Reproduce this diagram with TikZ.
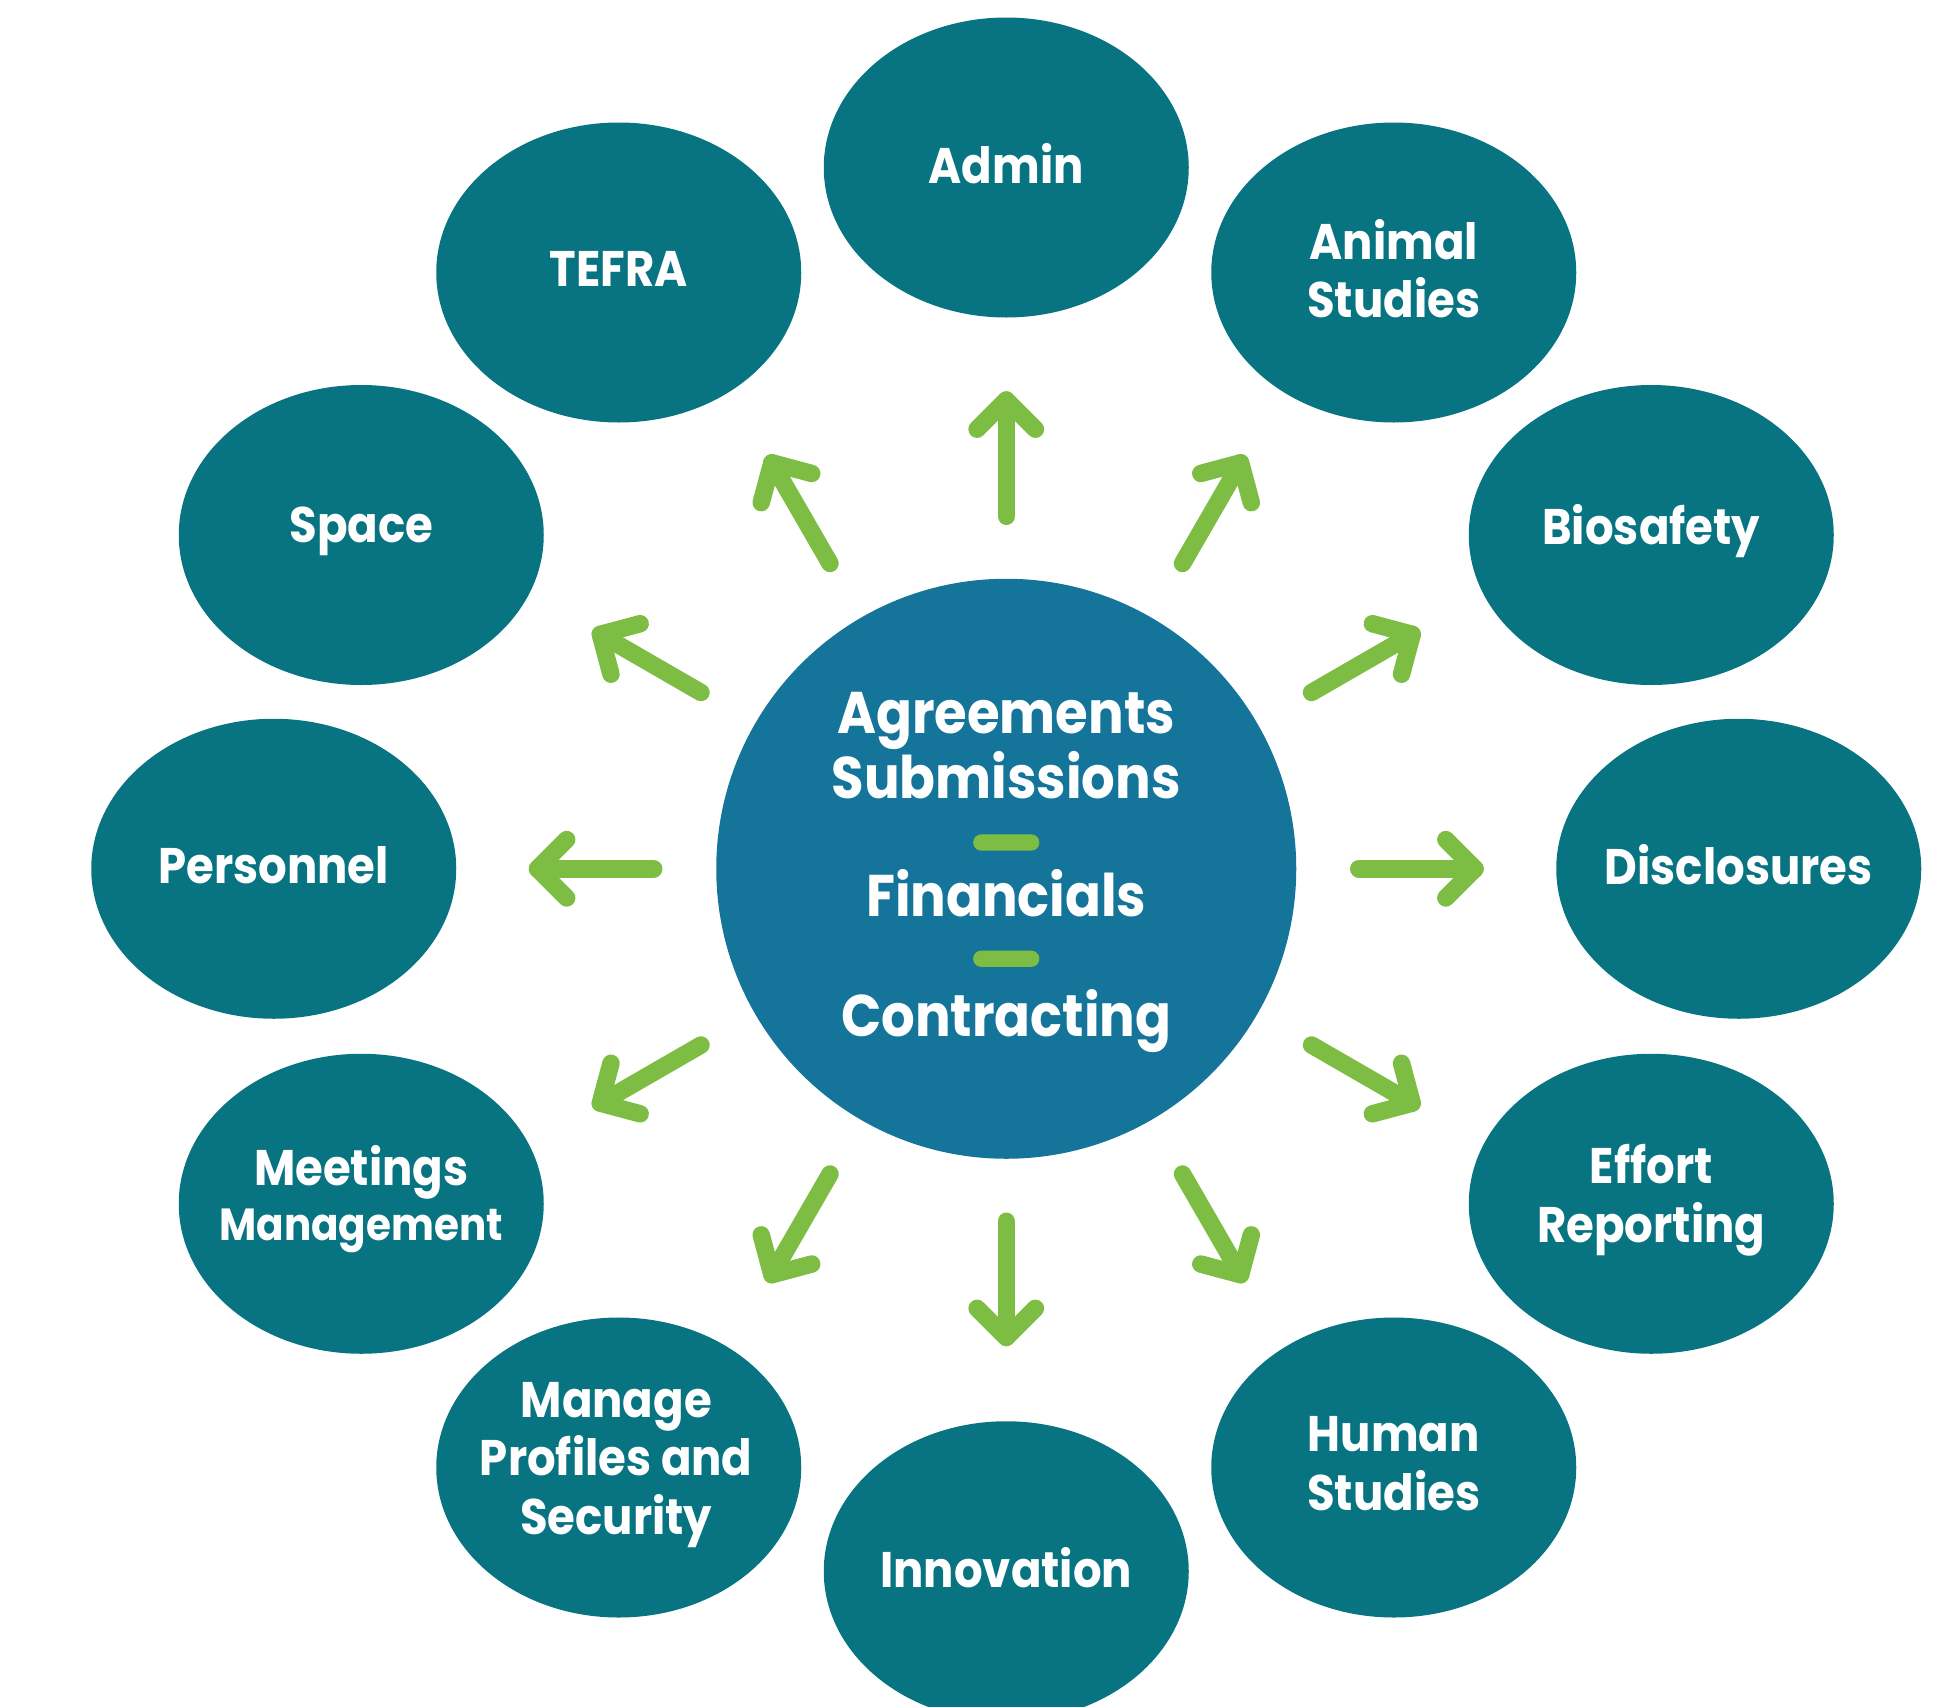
\documentclass[tikz,border=0pt]{standalone}
\usepackage{fontspec}
\setmainfont{Poppins}[FakeStretch=0.9]
\usetikzlibrary{shapes.geometric,calc}
\definecolor{satcol}{HTML}{087482}
\definecolor{hubcol}{HTML}{147499}
\definecolor{arrcol}{HTML}{7EBD43}
\begin{document}
\begin{tikzpicture}[x=1pt,y=-1pt,
  sat/.style={ellipse, fill=satcol, minimum width=292pt, minimum height=240pt,
    inner sep=0pt},
  sattext/.style={text=white, align=center, inner sep=0pt,
    font=\bfseries\fontsize{40}{47}\selectfont},
  hub/.style={circle, fill=hubcol, minimum size=464pt, inner sep=0pt},
  hubtext/.style={text=white, inner sep=0pt, anchor=base,
    font=\bfseries\fontsize{47}{50}\selectfont},
  bar/.style={fill=arrcol, rounded corners=6.5pt, minimum width=53pt,
    minimum height=13pt, inner sep=0pt},
  arr/.style={draw=arrcol, line width=14pt, line cap=round, line join=round}]
\useasboundingbox (0,0) rectangle (1561.6,1365.6);
\clip (0,0) rectangle (1561.6,1365.6);

\node[hub] (hub) at (805,695) {};
\node[hubtext] (agr) at (805,587) {Agreements};
\node[hubtext] (sub) at (805,639) {Submissions};
\node[bar] (bar1) at (805,674) {};
\node[hubtext] (fin) at (805,733) {Financials};
\node[bar] (bar2) at (805,767) {};
\node[hubtext] (con) at (805,829) {Contracting};

\node[sat] (admin) at (805,134) {};
\node[sat] (tefra) at (495,218) {};
\node[sat] (animal) at (1115,218) {};
\node[sat] (space) at (289,428) {};
\node[sat] (bio) at (1321,428) {};
\node[sat] (pers) at (219,695) {};
\node[sat] (disc) at (1391,695) {};
\node[sat] (meet) at (289,963) {};
\node[sat] (effort) at (1321,963) {};
\node[sat] (manage) at (495,1174) {};
\node[sat] (human) at (1115,1174) {};
\node[sat] (innov) at (805,1257) {};

\node[sattext] (admin-t) at ($(admin)+(0,-3)$) {Admin};
\node[sattext] (tefra-t) at ($(tefra)+(0,-3)$) {TEFRA};
\node[sattext] (animal-t) at ($(animal)+(0,-3)$) {Animal\\Studies};
\node[sattext] (space-t) at ($(space)+(0,-3)$) {Space};
\node[sattext] (bio-t) at ($(bio)+(0,-3)$) {Biosafety};
\node[sattext] (pers-t) at ($(pers)+(0,-3)$) {Personnel};
\node[sattext] (disc-t) at ($(disc)+(0,-3)$) {Disclosures};
\node[sattext] (meet-t) at ($(meet)+(0,-4)$) {Meetings\\[-3pt]{\fontsize{36}{44}\selectfont Management}};
\node[sattext] (effort-t) at ($(effort)+(0,-3)$) {Effort\\Reporting};
\node[sattext] (manage-t) at ($(manage)+(-2,-2)$) {Manage\\Profiles and\\Security};
\node[sattext] (human-t) at ($(human)+(0,-3)$) {Human\\Studies};
\node[sattext] (innov-t) at ($(innov)+(0,-3)$) {Innovation};

\foreach \a in {0,30,...,330} {
  \coordinate (s\a) at ($(hub.center)+(\a:282)$);
  \coordinate (e\a) at ($(hub.center)+(\a:375)$);
  \draw[arr] (s\a) -- (e\a);
  \draw[arr] ($(e\a)+(\a+135:33)$) -- (e\a) -- ($(e\a)+(\a-135:33)$);
}
\end{tikzpicture}
\end{document}
